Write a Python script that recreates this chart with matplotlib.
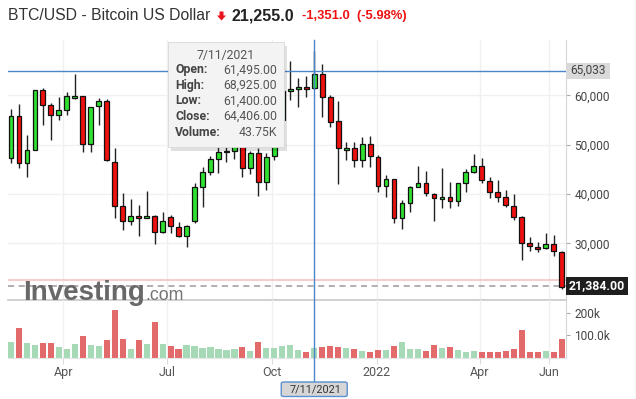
import matplotlib
matplotlib.use("Agg")
import matplotlib.pyplot as plt
import matplotlib.dates as mdates
from matplotlib.patches import FancyBboxPatch, Rectangle, Polygon
from matplotlib.lines import Line2D
import pandas as pd

plt.rcParams['font.family'] = ['Roboto', 'DejaVu Sans']

# ---------------- data (weekly candles, BTC/USD) ----------------
week_start = pd.date_range("2021-02-14", periods=70, freq="7D")
opens = [47270, 55840, 46260, 48950, 61050, 58010, 55990, 57000, 59430, 59900,
         50110, 57810, 58820, 46580, 37600, 34560, 35570, 35150, 35570, 32270,
         35310, 33280, 31520, 34560, 41390, 44550, 47070, 48480, 48800, 51000,
         45240, 48280, 42520, 47740, 55030, 60910, 61260, 61660, 61495, 64360,
         59640, 54830, 48950, 49300, 46920, 50170, 47600, 41650, 43010, 35110,
         38150, 41390, 42200, 39970, 38960, 39360, 38690, 42200, 44430, 45650,
         42670, 40380, 39360, 37540, 35370, 30040, 29230, 29030, 29840, 28220]
highs = [57200, 58200, 51930, 61200, 61520, 58420, 59760, 60770, 64300, 59950,
         57700, 59550, 59350, 49300, 40300, 38960, 37740, 40580, 35800, 36320,
         35710, 34420, 33750, 42320, 45570, 47740, 49620, 49620, 51000, 52800,
         48800, 49300, 48280, 56000, 62800, 67050, 63600, 63950, 68925, 66320,
         60100, 58950, 50640, 50640, 51650, 51850, 47940, 43880, 43010, 38820,
         41600, 45650, 44700, 40170, 45240, 42400, 42300, 45100, 48080, 47270,
         43420, 42870, 40840, 39970, 35570, 31250, 30370, 32190, 31660, 28480]
lows = [46380, 45240, 43420, 48900, 53960, 50920, 55030, 56050, 59300, 48610,
        48490, 54020, 46700, 35100, 32730, 33750, 31520, 35100, 29900, 32200,
        32070, 31250, 29350, 34090, 37460, 43800, 44330, 46460, 47070, 43420,
        44000, 39630, 40840, 46920, 54000, 59090, 57600, 59640, 61400, 55580,
        53550, 42060, 46920, 45440, 45570, 45570, 40500, 39480, 34100, 32880,
        36300, 41390, 39620, 34560, 37130, 37130, 37600, 40500, 44230, 42200,
        39160, 38470, 37460, 34760, 26650, 28540, 28340, 28820, 27530, 20770]
closes = [55840, 46260, 48950, 61050, 58010, 55990, 57000, 59840, 59900, 50110,
          57670, 58820, 46920, 37600, 34560, 35570, 35150, 35630, 32270, 34620,
          33540, 31520, 33550, 41390, 44430, 47070, 48610, 48810, 50000, 45240,
          48280, 42520, 47470, 55000, 61000, 61260, 61660, 61260, 64406, 59760,
          54690, 49300, 49420, 46920, 50170, 47740, 41650, 43010, 35110, 38150,
          41390, 42200, 40170, 39160, 39360, 38690, 42200, 44430, 45650, 42810,
          40380, 39360, 37740, 35430, 30040, 29430, 28820, 29840, 28420, 21255]
volumes_k = [69, 131, 65, 56, 66, 66, 47, 38, 60, 95,
             56, 52, 78, 210, 82, 38, 78, 60, 157, 60,
             52, 38, 56, 52, 43, 47, 38, 34, 38, 47,
             30, 69, 43, 43, 52, 56, 34, 25, 43.75, 47,
             52, 47, 43, 38, 30, 25, 34, 34, 52, 69,
             38, 38, 30, 56, 43, 47, 34, 25, 30, 25,
             25, 25, 30, 38, 123, 25, 25, 30, 25, 82]

price_ticks = [30000, 40000, 50000, 60000]
volume_ticks = [100, 200]
volume_tick_labels = ["100.0k", "200k"]
month_tick_dates = ["2021-04-01", "2021-07-01", "2021-10-01", "2022-01-01", "2022-04-01", "2022-06-01"]
month_tick_labels = ["Apr", "Jul", "Oct", "2022", "Apr", "Jun"]

title_name = "BTC/USD - Bitcoin US Dollar"
last_price = 21255.0
change_abs = -1351.0
change_pct = -5.98
prev_close = last_price - change_abs
last_label_price = 21384.00
crosshair_index = 38
crosshair_price = 65033
tooltip_date = "7/11/2021"

# ---------------- figure / layout ----------------
W, H = 636, 399
fig = plt.figure(figsize=(W / 100, H / 100), dpi=100)
fig.patch.set_facecolor("white")

def fx(px):
    return px / W

def fy(py):
    return 1 - py / H

L_PX, R_PX = 8, 566
TOP_PX, SEP_PX, VBOT_PX = 40, 300, 358
ax = fig.add_axes([fx(L_PX), fy(SEP_PX), (R_PX - L_PX) / W, (SEP_PX - TOP_PX) / H])
axv = fig.add_axes([fx(L_PX), fy(VBOT_PX), (R_PX - L_PX) / W, (VBOT_PX - SEP_PX) / H], sharex=ax)

xs = mdates.date2num(week_start.to_pydatetime())
up = [c >= o for o, c in zip(opens, closes)]

GREEN = "#2fe02f"
RED = "#ee1010"
VGREEN = "#a6dab6"
VRED = "#e26a6a"

# wicks
ax.vlines(xs, lows, highs, color="#222222", linewidth=1.0, zorder=2)
# bodies
body_bottom = [min(o, c) for o, c in zip(opens, closes)]
body_height = [max(abs(c - o), 250) for o, c in zip(opens, closes)]
ax.bar(xs, body_height, bottom=body_bottom, width=4.2,
       color=[GREEN if u else RED for u in up], edgecolor="#111111",
       linewidth=0.9, zorder=3)

ax.set_xlim(xs[0] - 2.6, xs[-1] + 3.8)
ax.set_ylim(18543, 71251)

# grid
month_x = mdates.date2num(pd.to_datetime(month_tick_dates).to_pydatetime())
for a in (ax, axv):
    for mx in month_x:
        a.axvline(mx, color="#f0f0f0", linewidth=1, zorder=0)
for p in price_ticks:
    ax.axhline(p, color="#f0f0f0", linewidth=1, zorder=0)

# previous close (pink) and last price (dashed)
ax.axhline(prev_close, color="#f6c4c4", linewidth=1.2, zorder=1)
ax.axhline(last_label_price, color="#9a9a9a", linewidth=1.1, linestyle=(0, (4, 3)), zorder=1)
# crosshair horizontal
ax.axhline(crosshair_price, color="#4a86c8", linewidth=1, zorder=4)

# axes styling
for a in (ax, axv):
    a.set_facecolor("none")
    for s in ("top", "left"):
        a.spines[s].set_visible(False)
    a.spines["right"].set_color("#d6d6d6")
    a.yaxis.tick_right()
    a.tick_params(axis="y", direction="out", length=3, color="#aaaaaa",
                  labelsize=8.6, labelcolor="#444444", pad=3)
ax.spines["bottom"].set_color("#c8c8c8")
ax.spines["bottom"].set_linewidth(1.2)
axv.spines["bottom"].set_color("#e6e6e6")

ax.set_yticks(price_ticks)
ax.set_yticklabels([f"{p:,}" for p in price_ticks])
ax.tick_params(axis="x", which="both", bottom=False, labelbottom=False)

# volume
axv.bar(xs, volumes_k, width=5.4, color=[VGREEN if u else VRED for u in up],
        linewidth=0, zorder=2)
axv.set_ylim(0, 255.5)
axv.set_yticks(volume_ticks)
axv.set_yticklabels(volume_tick_labels)
axv.set_xticks(month_x)
axv.set_xticklabels(month_tick_labels)
axv.tick_params(axis="x", direction="out", length=4, color="#dddddd",
                labelsize=9, labelcolor="#555555", pad=1.5)

# ---------------- crosshair vertical ----------------
cx_disp = ax.transData.transform((xs[crosshair_index], 0))[0]
cx = cx_disp / fig.bbox.width
fig.add_artist(Line2D([cx, cx], [fy(TOP_PX), fy(382)], transform=fig.transFigure,
                      color="#4a86c8", linewidth=1, zorder=5))
# date box at bottom
cx_px = cx * W
fig.add_artist(FancyBboxPatch((fx(cx_px - 33), fy(396.5)), 66 / W, 14.5 / H,
                              boxstyle="round,pad=0,rounding_size=0.004",
                              transform=fig.transFigure, facecolor="#d6d6d6",
                              edgecolor="#5b8fd0", linewidth=1, zorder=6))
fig.text(fx(cx_px + 1), fy(389.5), tooltip_date, ha="center", va="center",
         fontsize=7.8, color="#333333", zorder=7)

# ---------------- right labels ----------------
def yval_to_fig(v):
    return ax.transData.transform((xs[0], v))[1] / fig.bbox.height

y65 = yval_to_fig(crosshair_price)
fig.add_artist(Rectangle((fx(566), y65 - 8 / H), 44 / W, 16 / H, transform=fig.transFigure,
                         facecolor="#d9d9d9", edgecolor="none", zorder=6))
fig.text(fx(570), y65, f"{crosshair_price:,}", ha="left", va="center",
         fontsize=8.6, color="#444444", zorder=7)

ylast = yval_to_fig(last_label_price)
fig.add_artist(Rectangle((fx(566), ylast - 9 / H), 62 / W, 18 / H, transform=fig.transFigure,
                         facecolor="#1e1e1e", edgecolor="none", zorder=6))
fig.text(fx(569), ylast, f"{last_label_price:,.2f}", ha="left", va="center",
         fontsize=8.8, color="white", fontweight="bold", zorder=7)

# ---------------- tooltip ----------------
tx0, ty0, tx1, ty1 = 168, 42, 284, 147
fig.add_artist(Rectangle((fx(tx0 + 3), fy(ty1 + 4)), (tx1 - tx0) / W, (ty1 - ty0) / H,
                         transform=fig.transFigure, facecolor="#000000", alpha=0.12,
                         edgecolor="none", zorder=8))
fig.add_artist(Rectangle((fx(tx0), fy(ty1)), (tx1 - tx0) / W, (ty1 - ty0) / H,
                         transform=fig.transFigure, facecolor="#f3f3f3",
                         edgecolor="#d8d8d8", linewidth=0.6, zorder=9))
fig.text(fx((tx0 + tx1) / 2), fy(55), tooltip_date, ha="center", va="center",
         fontsize=8.8, color="#555555", zorder=10)
rows = [("Open:", f"{opens[crosshair_index]:,.2f}"),
        ("High:", f"{highs[crosshair_index]:,.2f}"),
        ("Low:", f"{lows[crosshair_index]:,.2f}"),
        ("Close:", f"{closes[crosshair_index]:,.2f}"),
        ("Volume:", f"{volumes_k[crosshair_index]:.2f}K")]
row_y = [70, 85.5, 101, 116.5, 132]
for (lab, val), yy in zip(rows, row_y):
    fig.text(fx(175), fy(yy), lab, ha="left", va="center", fontsize=8.8,
             fontweight="bold", color="#444444", zorder=10)
    fig.text(fx(277), fy(yy), val, ha="right", va="center", fontsize=8.8,
             color="#555555", zorder=10)

# ---------------- watermark ----------------
logo = fig.text(fx(23), fy(300), "Investing", ha="left", va="baseline", fontsize=20,
                fontweight="bold", family="Liberation Sans", color="#686868", zorder=3)
renderer = fig.canvas.get_renderer()
logo_bb = logo.get_window_extent(renderer=renderer)
fig.text(logo_bb.x1 / fig.bbox.width + 0.5 / W, fy(300), ".com", ha="left", va="baseline",
         fontsize=12.8, family="Liberation Sans", color="#747474", zorder=3)

# ---------------- title ----------------
fig.text(fx(8), fy(16), title_name, ha="left", va="center", fontsize=11.3,
         family="Liberation Sans", color="#333333")
fig.add_artist(Polygon([[fx(219.5), fy(11.5)], [fx(223.5), fy(11.5)], [fx(223.5), fy(15.5)],
                        [fx(226), fy(15.5)], [fx(221.5), fy(20.5)], [fx(217), fy(15.5)],
                        [fx(219.5), fy(15.5)]], closed=True, transform=fig.transFigure,
                       facecolor="#e8141e", edgecolor="none"))
fig.text(fx(232), fy(16), f"{last_price:,.1f}", ha="left", va="center", fontsize=11.5,
         fontweight="bold", family="Liberation Sans", color="#222222")
fig.text(fx(302), fy(16.5), f"{change_abs:,.1f}  ({change_pct:.2f}%)", ha="left", va="center",
         fontsize=9.4, fontweight="bold", family="Liberation Sans", color="#ee1111")

# right container border
fig.add_artist(Line2D([fx(635.5), fx(635.5)], [0, 1], transform=fig.transFigure,
                      color="#d0d0d0", linewidth=1))

fig.savefig("out.png", dpi=100)
